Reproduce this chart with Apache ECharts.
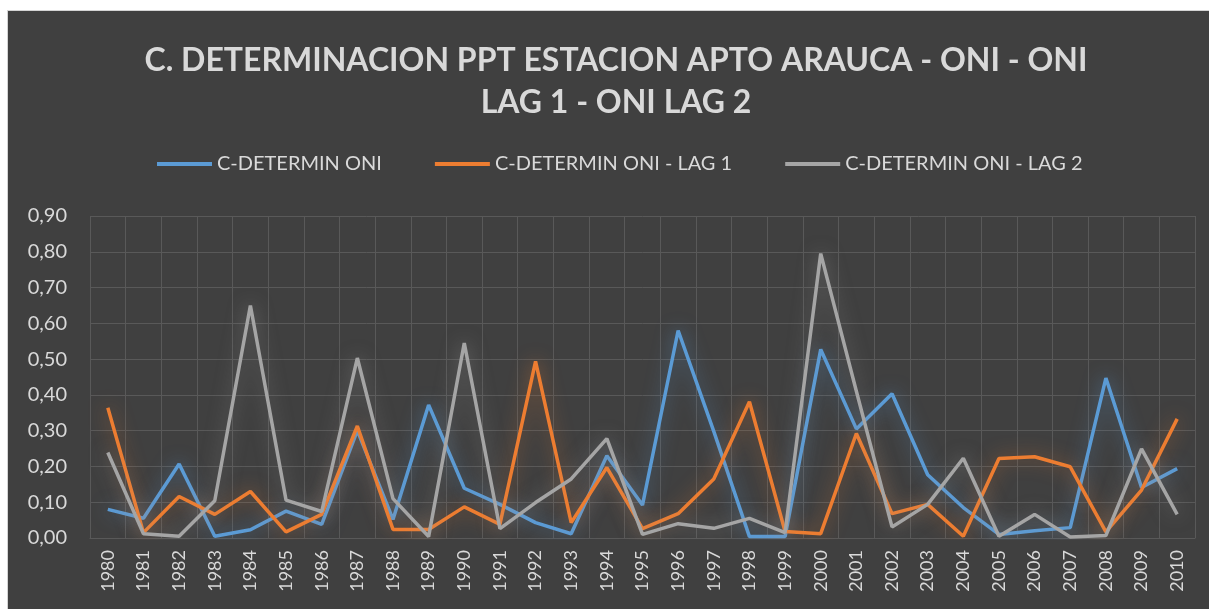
<!DOCTYPE html>
<html lang="es">
  <head>
    <meta charset="UTF-8" />
    <title>C. Determinacion PPT Apto Arauca</title>
    <style>
      body {
        margin: 0;
        width: 1209px;
        height: 609px;
        background-color: #ffffff;
        overflow: hidden;
      }
      #chart {
        position: absolute;
        left: 7px;
        top: 10px;
        width: 1202px;
        height: 599px;
        border-left: 1px solid #d4d4d4;
        border-top: 1px solid #d4d4d4;
      }
    </style>
  </head>
  <body>
    <div id="chart"></div>
    <script src="https://cdn.jsdelivr.net/npm/echarts@6/dist/echarts.min.js"></script>
    <script>
      const years = [
        "1980", "1981", "1982", "1983", "1984", "1985", "1986", "1987", "1988", "1989",
        "1990", "1991", "1992", "1993", "1994", "1995", "1996", "1997", "1998", "1999",
        "2000", "2001", "2002", "2003", "2004", "2005", "2006", "2007", "2008", "2009", "2010",
      ];

      const oni = [
        0.08, 0.055, 0.207, 0.005, 0.023, 0.075, 0.038, 0.3, 0.052, 0.372,
        0.139, 0.094, 0.043, 0.012, 0.23, 0.092, 0.58, 0.298, 0.004, 0.004,
        0.527, 0.305, 0.403, 0.177, 0.085, 0.01, 0.02, 0.029, 0.447, 0.141, 0.194,
      ];

      const oniLag1 = [
        0.364, 0.015, 0.116, 0.066, 0.13, 0.017, 0.066, 0.313, 0.024, 0.024,
        0.087, 0.038, 0.494, 0.043, 0.197, 0.026, 0.068, 0.165, 0.381, 0.018,
        0.012, 0.292, 0.068, 0.094, 0.005, 0.222, 0.227, 0.199, 0.017, 0.134, 0.333,
      ];

      const oniLag2 = [
        0.239, 0.012, 0.005, 0.104, 0.65, 0.106, 0.074, 0.503, 0.11, 0.004,
        0.545, 0.026, 0.099, 0.165, 0.278, 0.01, 0.04, 0.027, 0.055, 0.015,
        0.795, 0.41, 0.031, 0.094, 0.223, 0.005, 0.066, 0.003, 0.007, 0.249, 0.066,
      ];

      const seriesNames = ["C-DETERMIN ONI", "C-DETERMIN ONI - LAG 1", "C-DETERMIN ONI - LAG 2"];
      const seriesColors = ["#5b9bd5", "#ed7d31", "#a5a5a5"];
      const glowColors = ["rgba(91,155,213,0.6)", "rgba(237,125,49,0.55)", "rgba(165,165,165,0.5)"];

      const textColor = "#d9d9d9";
      const gridColor = "#595959";
      const font = "Lato, 'Open Sans', sans-serif";

      const chart = echarts.init(document.querySelector("#chart"));

      const seriesData = [oni, oniLag1, oniLag2];

      chart.setOption({
        backgroundColor: "#404040",
        animation: false,
        title: {
          text: "C. DETERMINACION PPT ESTACION APTO ARAUCA - ONI - ONI\nLAG 1 - ONI LAG 2",
          left: 603,
          textAlign: "center",
          top: 24,
          textStyle: {
            color: textColor,
            fontFamily: font,
            fontWeight: "bold",
            fontSize: 32,
            lineHeight: 42,
          },
        },
        legend: {
          top: 138,
          left: 144,
          itemWidth: 55,
          itemHeight: 4,
          itemGap: 53,
          icon: "rect",
          textStyle: {
            color: textColor,
            fontFamily: font,
            fontSize: 20,
          },
          data: seriesNames,
        },
        grid: {
          left: 82,
          right: 15,
          top: 205,
          bottom: 72,
        },
        xAxis: {
          type: "category",
          data: years,
          boundaryGap: true,
          axisLine: { lineStyle: { color: gridColor, width: 1 } },
          axisTick: { show: false },
          splitLine: { show: true, lineStyle: { color: gridColor, width: 1 } },
          axisLabel: {
            rotate: 90,
            interval: 0,
            margin: 12,
            color: textColor,
            fontFamily: font,
            fontSize: 18,
          },
        },
        yAxis: {
          type: "value",
          min: 0,
          max: 0.9,
          interval: 0.1,
          axisLine: { show: false },
          axisTick: { show: false },
          splitLine: { lineStyle: { color: gridColor, width: 1 } },
          axisLabel: {
            margin: 23,
            color: textColor,
            fontFamily: font,
            fontSize: 20,
            formatter: (v) => v.toFixed(2).replace(".", ","),
          },
        },
        series: seriesData.map((data, i) => ({
          name: seriesNames[i],
          type: "line",
          data: data,
          symbol: "none",
          color: seriesColors[i],
          lineStyle: {
            width: 3.5,
            color: seriesColors[i],
            shadowBlur: 18,
            shadowColor: glowColors[i],
          },
        })),
      });
    </script>
  </body>
</html>
